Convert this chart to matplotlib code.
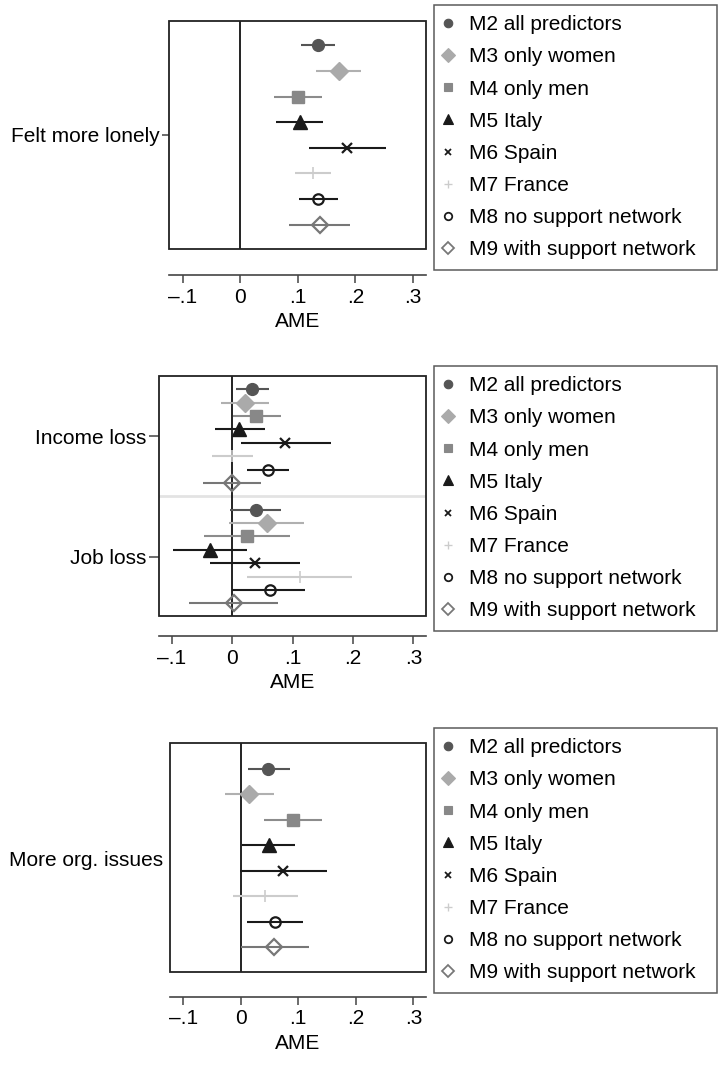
import matplotlib
matplotlib.use("Agg")
import matplotlib.pyplot as plt
from matplotlib.patches import Rectangle
from matplotlib.lines import Line2D

plt.rcParams['font.family'] = ['Liberation Sans', 'DejaVu Sans']

models = ["M2 all predictors", "M3 only women", "M4 only men", "M5 Italy",
          "M6 Spain", "M7 France", "M8 no support network", "M9 with support network"]

lonely_est = [0.135, 0.172, 0.100, 0.103, 0.186, 0.126, 0.136, 0.138]
lonely_lo = [0.106, 0.132, 0.058, 0.062, 0.119, 0.095, 0.102, 0.085]
lonely_hi = [0.164, 0.210, 0.142, 0.144, 0.253, 0.157, 0.170, 0.190]

income_est = [0.033, 0.022, 0.040, 0.012, 0.088, 0.000, 0.059, 0.000]
income_lo = [0.006, -0.018, 0.001, -0.028, 0.015, -0.033, 0.024, -0.048]
income_hi = [0.061, 0.061, 0.081, 0.054, 0.164, 0.035, 0.094, 0.048]

job_est = [0.039, 0.057, 0.025, -0.036, 0.038, 0.112, 0.062, 0.003]
job_lo = [-0.003, -0.005, -0.047, -0.097, -0.036, 0.025, 0.000, -0.071]
job_hi = [0.081, 0.119, 0.096, 0.025, 0.112, 0.199, 0.121, 0.076]

org_est = [0.048, 0.015, 0.091, 0.049, 0.074, 0.043, 0.059, 0.058]
org_lo = [0.012, -0.027, 0.041, 0.002, -0.002, -0.013, 0.011, 0.000]
org_hi = [0.085, 0.057, 0.141, 0.095, 0.150, 0.100, 0.109, 0.118]

xticks = [-0.1, 0.0, 0.1, 0.2, 0.3]
xticklabels = ["\u2013.1", "0", ".1", ".2", ".3"]

# marker styles per model
styles = [
    dict(marker='o', ms=8.5, mfc='#555555', mec='#555555', c='#555555', mew=1),
    dict(marker='D', ms=9.5, mfc='#aaaaaa', mec='#aaaaaa', c='#b0b0b0', mew=1),
    dict(marker='s', ms=8.5, mfc='#888888', mec='#888888', c='#8c8c8c', mew=1),
    dict(marker='^', ms=10, mfc='#1a1a1a', mec='#1a1a1a', c='#1a1a1a', mew=1),
    dict(marker='x', ms=6.5, mfc='#1a1a1a', mec='#1a1a1a', c='#1a1a1a', mew=1.6),
    dict(marker='+', ms=8, mfc='#cccccc', mec='#cccccc', c='#cccccc', mew=1.2),
    dict(marker='o', ms=7.5, mfc='none', mec='#1a1a1a', c='#1a1a1a', mew=1.6),
    dict(marker='D', ms=8.5, mfc='none', mec='#777777', c='#777777', mew=1.6),
]

W, H = 722, 1066
fig = plt.figure(figsize=(W / 100, H / 100), dpi=100)
FS = 15


def add_axes(left, right, top, bottom):
    return fig.add_axes([left / W, 1 - bottom / H, (right - left) / W, (bottom - top) / H])


def draw_group(ax, positions, est, lo, hi):
    for i, st in enumerate(styles):
        y = positions[i]
        ax.hlines(y, lo[i], hi[i], color=st['c'], lw=1.5, zorder=2)
        ax.plot([est[i]], [y], linestyle='none', marker=st['marker'], ms=st['ms'],
                mfc=st['mfc'], mec=st['mec'], mew=st['mew'], zorder=3)


def style_axes(ax, xlim, ylim, ytick_pos, ytick_lab, outward, ytick_len=5, ypad=2):
    ax.set_xlim(*xlim)
    ax.set_ylim(*ylim)
    ax.axvline(0, color='#111111', lw=1.3, zorder=1)
    for s in ['top', 'left', 'right']:
        ax.spines[s].set_visible(False)
    ax.spines['bottom'].set_position(('outward', outward))
    ax.spines['bottom'].set_color('#444444')
    ax.spines['bottom'].set_linewidth(1.2)
    ax.add_patch(Rectangle((0, 0), 1, 1, transform=ax.transAxes, fill=False,
                           lw=1.3, ec='#222222', clip_on=False, zorder=4))
    ax.set_xticks(xticks)
    ax.set_xticklabels(xticklabels)
    ax.set_yticks(ytick_pos)
    ax.set_yticklabels(ytick_lab)
    ax.tick_params(axis='x', length=6, width=1.1, color='#444444', labelsize=FS, pad=3)
    ax.tick_params(axis='y', length=ytick_len, width=1.1, color='#444444', labelsize=FS, pad=ypad)
    ax.set_xlabel("AME", fontsize=FS, labelpad=4)


def add_legend(left, right, top):
    handles = [Line2D([], [], linestyle='none', marker=st['marker'], ms=st['ms'],
                      mfc=st['mfc'], mec=st['mec'], mew=st['mew'] * 0.8) for st in styles]
    leg = fig.legend(handles, models, loc='upper left',
                     bbox_to_anchor=(left / W, 1 - top / H, (right - left) / W, 0.0001),
                     mode='expand', borderaxespad=0, fontsize=FS, frameon=True,
                     fancybox=False, edgecolor='#333333', markerscale=0.72,
                     labelspacing=0.63, borderpad=0.5, handlelength=0.3,
                     handletextpad=0.88)
    leg.get_frame().set_linewidth(1.1)
    return leg


# Panel 1: Felt more lonely
ax1 = add_axes(169, 426, 21, 249)
pos1 = list(range(8))
draw_group(ax1, pos1, lonely_est, lonely_lo, lonely_hi)
style_axes(ax1, (-0.124, 0.323), (7.95, -0.95), [3.5], ["Felt more lonely"], 19)
add_legend(434, 717, 5)

# Panel 2: Income loss / Job loss
ax2 = add_axes(159, 426, 376, 616)
pos_income = list(range(8))
pos_job = [p + 9 for p in range(8)]
ax2.axhline(8, color='#e3e3e3', lw=2, zorder=0)
draw_group(ax2, pos_income, income_est, income_lo, income_hi)
draw_group(ax2, pos_job, job_est, job_lo, job_hi)
style_axes(ax2, (-0.121, 0.321), (16.95, -1.0), [3.5, 12.5], ["Income loss", "Job loss"], 14.5, 7)
add_legend(434, 717, 366)

# Panel 3: More org. issues
ax3 = add_axes(170, 426, 743, 972)
pos3 = list(range(8))
draw_group(ax3, pos3, org_est, org_lo, org_hi)
style_axes(ax3, (-0.123, 0.322), (7.97, -1.01), [3.5], ["More org. issues"], 18, 0, 5)
add_legend(434, 717, 728)

fig.savefig("out.png", dpi=100)
